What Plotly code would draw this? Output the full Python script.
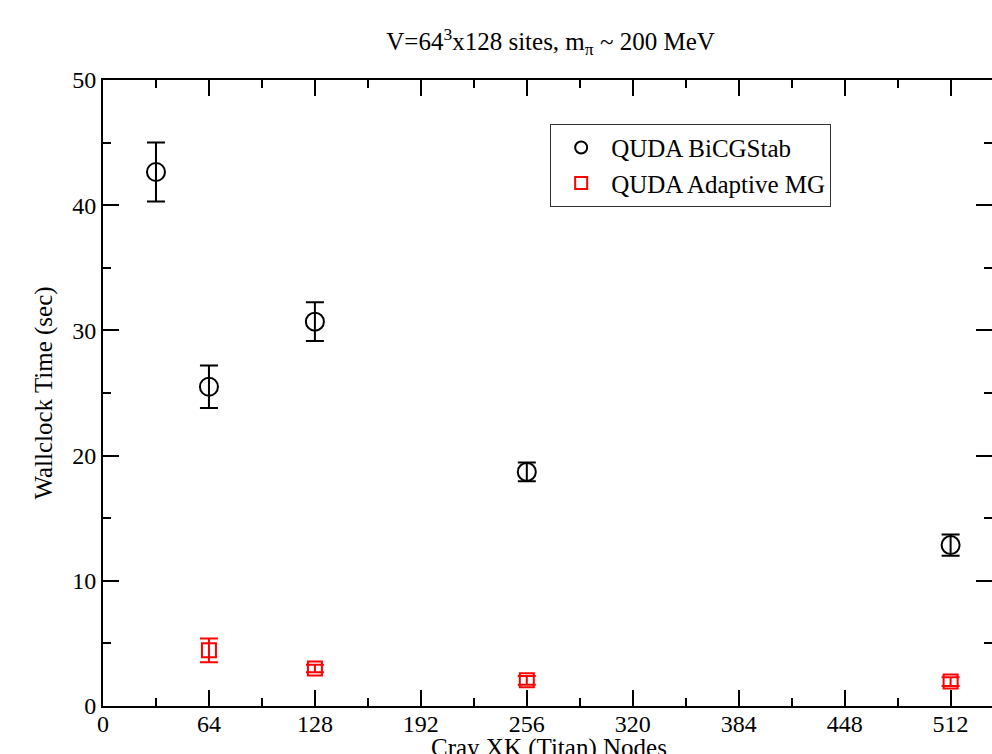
import plotly.graph_objects as go

nodes_bicg = [32, 64, 128, 256, 512]
time_bicg = [42.65, 25.5, 30.7, 18.7, 12.85]
err_bicg = [2.35, 1.7, 1.55, 0.75, 0.85]

nodes_mg = [64, 128, 256, 512]
time_mg = [4.45, 3.0, 2.05, 1.95]
err_mg = [0.95, 0.3, 0.35, 0.35]

x_ticks = [0, 64, 128, 192, 256, 320, 384, 448, 512]
y_ticks = [0, 10, 20, 30, 40, 50]

x_title = "Cray XK (Titan) Nodes"
y_title = "Wallclock Time (sec)"

FONT = "Liberation Serif, Times New Roman, Times, serif"

fig = go.Figure()
fig.add_trace(go.Scatter(
    x=nodes_bicg, y=time_bicg, mode="markers", name="QUDA BiCGStab",
    marker=dict(symbol="circle-open", size=18, color="black", line=dict(width=2, color="black")),
    error_y=dict(type="data", array=err_bicg, visible=True, color="black", thickness=2, width=9),
))
fig.add_trace(go.Scatter(
    x=nodes_mg, y=time_mg, mode="markers", name="QUDA Adaptive MG",
    marker=dict(symbol="square-open", size=14, color="red", line=dict(width=2, color="red")),
    error_y=dict(type="data", array=err_mg, visible=True, color="red", thickness=2, width=9),
))

fig.add_annotation(text=x_title, xref="paper", yref="paper", x=0.502, y=-0.041,
                   xanchor="center", yanchor="top", showarrow=False,
                   font=dict(family=FONT, size=25, color="black"))

fig.update_layout(
    width=992, height=754,
    margin=dict(l=103, r=0, t=80, b=48),
    paper_bgcolor="white", plot_bgcolor="white",
    font=dict(family=FONT, size=24, color="black"),
    title=dict(text="V=64<sup>3</sup>x128 sites, m<sub>π</sub> ~ 200 MeV",
               x=0.555, xanchor="center", xref="container", y=0.945, yanchor="middle",
               font=dict(family=FONT, size=25)),
    showlegend=True,
    legend=dict(x=0.503, y=0.93, xanchor="left", yanchor="top",
                bordercolor="#333333", borderwidth=1, bgcolor="white",
                font=dict(family=FONT, size=25), tracegroupgap=0,
                itemsizing="constant", itemwidth=50),
    xaxis=dict(
        range=[0, 537], tickvals=x_ticks, ticktext=[str(v) for v in x_ticks],
        automargin=False,
        showgrid=False, zeroline=False, showline=True, linecolor="black", linewidth=2,
        mirror="ticks", ticks="inside", ticklen=16, tickwidth=2, tickcolor="black",
        minor=dict(dtick=32, tick0=0, ticks="inside", ticklen=8, tickwidth=2, tickcolor="black", showgrid=False),
        tickfont=dict(family=FONT, size=24),
        ticklabelstandoff=-5,
    ),
    yaxis=dict(
        range=[0, 50], tickvals=y_ticks,
        automargin=False,
        showgrid=False, zeroline=False, showline=True, linecolor="black", linewidth=2,
        mirror="ticks", ticks="inside", ticklen=16, tickwidth=2, tickcolor="black",
        minor=dict(dtick=5, tick0=0, ticks="inside", ticklen=8, tickwidth=2, tickcolor="black", showgrid=False),
        title=dict(text=y_title, standoff=12, font=dict(family=FONT, size=25)),
        tickfont=dict(family=FONT, size=24),
    ),
)

fig.write_html("out.html")
